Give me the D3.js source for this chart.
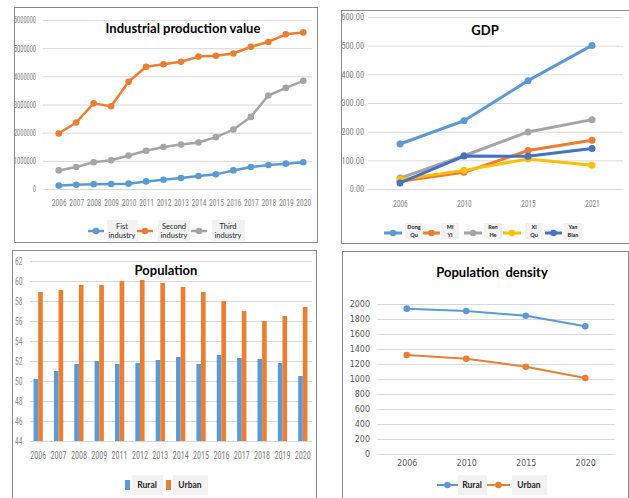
<!DOCTYPE html>
<html><head><meta charset="utf-8">
<script src="https://cdn.jsdelivr.net/npm/d3@7"></script>
<style>body{margin:0;background:#fff}</style>
</head><body><svg id="c" width="629" height="498"></svg>
<script>
// ---------- DATA ----------
const ipYears = ["2006","2007","2008","2009","2010","2011","2012","2013","2014","2015","2016","2017","2018","2019","2020"];
const ipFirst  = [120000,150000,170000,180000,190000,270000,330000,390000,460000,520000,660000,780000,850000,900000,950000];
const ipSecond = [1970000,2360000,3040000,2940000,3810000,4340000,4430000,4520000,4700000,4730000,4810000,5050000,5220000,5490000,5560000];
const ipThird  = [660000,780000,950000,1020000,1190000,1360000,1490000,1580000,1650000,1840000,2110000,2560000,3320000,3590000,3840000];
const ipTicks = [0,1000000,2000000,3000000,4000000,5000000,6000000];
const ipNames = [["Fist","industry"],["Second","industry"],["Third","industry"]];

const gdpYears = ["2006","2010","2015","2021"];
const gdpDongQu  = [157,238,378,501];
const gdpMiYi    = [27,58,134,170];
const gdpRenHe   = [38,116,199,242];
const gdpXiQu    = [33,65,105,83];
const gdpYanBian = [21,115,114,141];
const gdpTicks = [0,100,200,300,400,500,600];
const gdpNames = [["Dong","Qu"],["Mi","Yi"],["Ren","He"],["Xi","Qu"],["Yan","Bian"]];

const popYears = ["2006","2007","2008","2009","2011","2012","2013","2014","2015","2016","2017","2018","2019","2020"];
const popRural = [50.2,51.0,51.7,52.0,51.7,51.8,52.1,52.4,51.7,52.6,52.3,52.2,51.8,50.5];
const popUrban = [58.9,59.1,59.6,59.6,60.0,60.1,59.8,59.4,58.9,58.0,57.0,56.0,56.5,57.4];
const popTicks = [44,46,48,50,52,54,56,58,60,62];
const popNames = ["Rural","Urban"];

const denYears = ["2006","2010","2015","2020"];
const denRural = [1938,1907,1844,1702];
const denUrban = [1320,1271,1164,1013];
const denTicks = [0,200,400,600,800,1000,1200,1400,1600,1800,2000];
const denNames = ["Rural","Urban"];

// ---------- STYLE ----------
const C = {blue:"#5B9BD5", orange:"#ED7D31", gray:"#A5A5A5", yellow:"#FFC000", dblue:"#4472C4"};
const narrow = "'Roboto Condensed','Liberation Sans Narrow',sans-serif";
const svg = d3.select("#c");

function squeeze(sel, perChar){
  sel.each(function(){
    const s = this.textContent;
    let w = 0;
    for (const ch of s) w += (ch === ".") ? perChar*0.5 : perChar;
    d3.select(this).attr("textLength", w).attr("lengthAdjust","spacingAndGlyphs");
  });
}
function panel(x0,y0,x1,y1){
  svg.append("rect").attr("x",x0+0.5).attr("y",y0+0.5).attr("width",x1-x0).attr("height",y1-y0)
    .attr("fill","#fff").attr("stroke","#8a8a8a").attr("stroke-width",1);
}
function grid(y, ticks, left, right){
  const g = svg.append("g").attr("transform",`translate(${right},0)`)
    .call(d3.axisLeft(y).tickValues(ticks).tickSize(right-left).tickFormat(""));
  g.select(".domain").remove();
  g.selectAll("line").attr("stroke","#d9d9d9").attr("stroke-width",1);
}
function yLabels(y, ticks, xr, fmt, font, size, color, perChar){
  const g = svg.append("g").attr("transform",`translate(${xr},0)`)
    .call(d3.axisLeft(y).tickValues(ticks).tickSize(0).tickPadding(0).tickFormat(fmt));
  g.select(".domain").remove();
  const t = g.selectAll("text").attr("font-family",font).attr("font-size",size).attr("fill",color);
  if (perChar) squeeze(t, perChar);
}
function xLabels(x, yTop, font, size, color, perChar){
  const g = svg.append("g").attr("transform",`translate(0,${yTop})`)
    .call(d3.axisBottom(x).tickSize(0).tickPadding(0));
  g.select(".domain").remove();
  const t = g.selectAll("text").attr("font-family",font).attr("font-size",size).attr("fill",color);
  if (perChar) squeeze(t, perChar);
}
function series(x, y, cats, vals, color, w, r){
  const line = d3.line().x((d,i)=>x(cats[i])).y(d=>y(d));
  svg.append("path").datum(vals).attr("d",line).attr("fill","none")
    .attr("stroke",color).attr("stroke-width",w).attr("stroke-linejoin","round");
  svg.append("g").selectAll("circle").data(vals).join("circle")
    .attr("cx",(d,i)=>x(cats[i])).attr("cy",d=>y(d)).attr("r",r).attr("fill",color);
}
function title(txt, cx, cy, size){
  svg.append("text").attr("x",cx).attr("y",cy).attr("text-anchor","middle")
    .attr("font-family","Lato,'Open Sans',sans-serif").attr("font-weight","bold")
    .attr("font-size",size).attr("fill","#000").attr("xml:space","preserve").text(txt);
}
function legBox(x,y,w,h){
  svg.append("rect").attr("x",x).attr("y",y).attr("width",w).attr("height",h).attr("fill","#f2f2f2");
}
function legLine(x0,x1,y,color,w,r){
  svg.append("line").attr("x1",x0).attr("x2",x1).attr("y1",y).attr("y2",y).attr("stroke",color).attr("stroke-width",w);
  svg.append("circle").attr("cx",(x0+x1)/2).attr("cy",y).attr("r",r).attr("fill",color);
}
function legText2(lines, cx, y1, y2, size, weight){
  const t = svg.append("text").attr("text-anchor","middle").attr("font-family","Lato,'Open Sans',sans-serif")
    .attr("font-size",size).attr("font-weight",weight).attr("fill","#262626");
  t.append("tspan").attr("x",cx).attr("y",y1).text(lines[0]);
  t.append("tspan").attr("x",cx).attr("y",y2).text(lines[1]);
}

// ---------- PANEL 1: Industrial production value ----------
panel(14,7,317,242);
{
  const x = d3.scalePoint().domain(ipYears).range([50,312]).padding(0.5);
  const y = d3.scaleLinear().domain([0,6000000]).range([189,20]);
  grid(y, ipTicks, 43, 312);
  yLabels(y, ipTicks, 36, d3.format("d"), narrow, 9, "#7f7f7f", 3.15);
  xLabels(x, 199.5, narrow, 8.5, "#7f7f7f", 3.7);
  title("Industrial production value", 183, 33, 13);
  const sets = [[ipFirst,C.blue],[ipSecond,C.orange],[ipThird,C.gray]];
  sets.forEach(s=>series(x,y,ipYears,s[0],s[1],2.5,3.3));
  const lx = [[88,104,122,107,31],[137,153,174,158,32],[191,207,228,212,33]];
  lx.forEach((p,i)=>{
    legBox(p[3],220,p[4],21);
    legLine(p[0],p[1],231,sets[i][1],2.5,3.3);
    legText2(ipNames[i],p[2],228.5,237.5,7.5,"normal");
  });
}

// ---------- PANEL 2: GDP ----------
panel(341,10,640,243);
{
  const x = d3.scalePoint().domain(gdpYears).range([368,624]).padding(0.5);
  const y = d3.scaleLinear().domain([0,600]).range([189,17]);
  grid(y, gdpTicks, 368, 623);
  yLabels(y, gdpTicks, 364, d3.format(".2f"), narrow, 9, "#7f7f7f", 4.1);
  xLabels(x, 200, narrow, 9.5, "#7f7f7f", 3.6);
  title("GDP", 485, 35, 13);
  const sets = [[gdpDongQu,C.blue],[gdpMiYi,C.orange],[gdpRenHe,C.gray],[gdpXiQu,C.yellow],[gdpYanBian,C.dblue]];
  sets.forEach(s=>series(x,y,gdpYears,s[0],s[1],3,3.5));
  const lx = [[384,402,414],[423,440,450],[464,482,493],[503,521,534],[545,562,573]];
  lx.forEach((p,i)=>{
    legBox(p[2]-9,223,18,16);
    legLine(p[0],p[1],233,sets[i][1],3,3.3);
    legText2(gdpNames[i],p[2],228.5,236.5,5.5,"bold");
  });
}

// ---------- PANEL 3: Population ----------
panel(12,250,316,520);
{
  const x = d3.scaleBand().domain(popYears).range([28,313]);
  const y = d3.scaleLinear().domain([44,62]).range([441,261]);
  const xs = d3.scaleBand().domain(popNames).range([0,x.bandwidth()]).paddingInner(0).paddingOuter(1.2);
  grid(y, popTicks, 30, 312);
  const yl = svg.append("g").selectAll("text").data(popTicks).join("text")
    .attr("x",15).attr("y",d=>y(d)).attr("dy","0.35em").attr("font-family",narrow)
    .attr("font-size",10).attr("fill","#8c8c8c").text(d=>d);
  squeeze(yl, 3.7);
  xLabels(x, 452, narrow, 10, "#7f7f7f", 4.0);
  const sets = [[popRural,C.blue],[popUrban,C.orange]];
  sets.forEach((s,k)=>{
    svg.append("g").selectAll("rect").data(s[0]).join("rect")
      .attr("x",(d,i)=>x(popYears[i])+xs(popNames[k]))
      .attr("width",xs.bandwidth())
      .attr("y",d=>y(d)).attr("height",d=>y(44)-y(d)).attr("fill",s[1]);
  });
  title("Population", 166, 275, 13);
  legBox(132,475,31,20); legBox(173,475,35,20);
  svg.append("rect").attr("x",125).attr("y",480).attr("width",5).attr("height",10).attr("fill",C.blue);
  svg.append("rect").attr("x",166).attr("y",480).attr("width",5).attr("height",10).attr("fill",C.orange);
  svg.append("text").attr("x",147).attr("y",488).attr("text-anchor","middle").attr("font-family","Lato,sans-serif")
    .attr("font-weight","bold").attr("font-size",8.5).attr("fill","#262626").text(popNames[0]);
  svg.append("text").attr("x",190).attr("y",488).attr("text-anchor","middle").attr("font-family","Lato,sans-serif")
    .attr("font-weight","bold").attr("font-size",8.5).attr("fill","#262626").text(popNames[1]);
}

// ---------- PANEL 4: Population density ----------
panel(342,251,628,520);
{
  const x = d3.scalePoint().domain(denYears).range([377,615]).padding(0.5);
  const y = d3.scaleLinear().domain([0,2000]).range([454,304]);
  grid(y, denTicks, 377, 615);
  yLabels(y, denTicks, 370, d3.format("d"), "'DejaVu Sans',sans-serif", 8, "#595959");
  xLabels(x, 460, "'DejaVu Sans',sans-serif", 8, "#595959");
  title("Population  density", 492, 277, 13);
  series(x,y,denYears,denRural,C.blue,2,3.3);
  series(x,y,denYears,denUrban,C.orange,2,3.3);
  legBox(458,475,29,20); legBox(512,475,35,20);
  legLine(437,458,485,C.blue,2,3.3);
  legLine(487,510,485,C.orange,2,3.3);
  svg.append("text").attr("x",472).attr("y",488).attr("text-anchor","middle").attr("font-family","Lato,sans-serif")
    .attr("font-weight","bold").attr("font-size",8.5).attr("fill","#262626").text(denNames[0]);
  svg.append("text").attr("x",529).attr("y",488).attr("text-anchor","middle").attr("font-family","Lato,sans-serif")
    .attr("font-weight","bold").attr("font-size",8.5).attr("fill","#262626").text(denNames[1]);
}
</script>
</body></html>
